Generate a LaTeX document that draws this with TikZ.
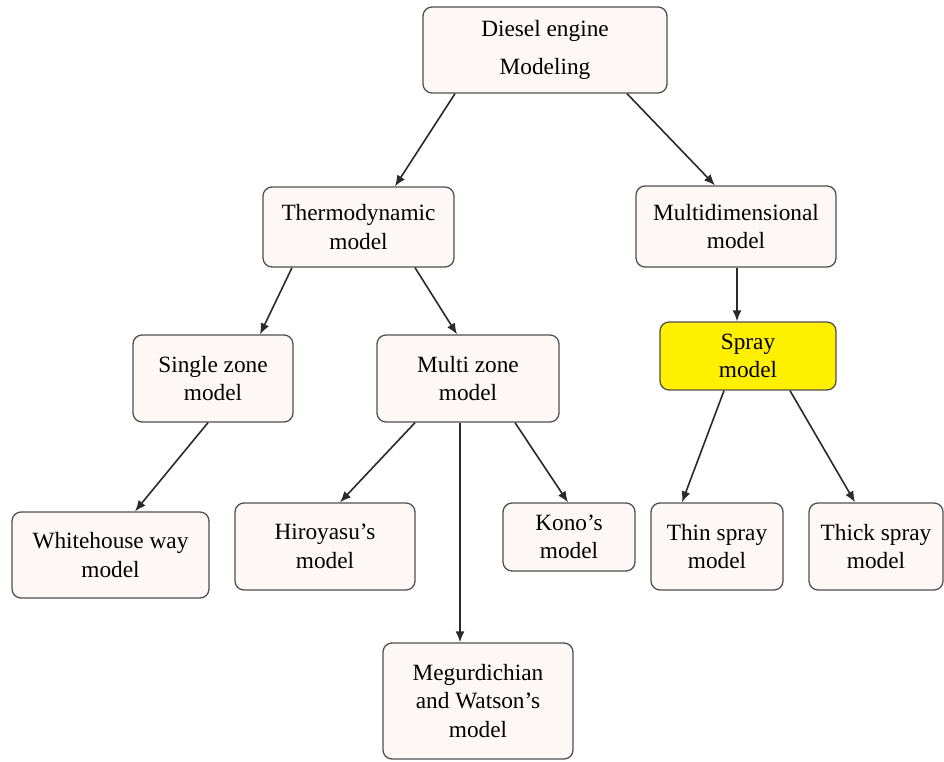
\documentclass[tikz,border=0pt]{standalone}
\usepackage{fontspec}
\setmainfont{Liberation Serif}
\usetikzlibrary{arrows.meta}
\definecolor{boxfill}{HTML}{FDF8F6}
\definecolor{boxline}{HTML}{505050}
\definecolor{sprayfill}{HTML}{FFF000}
\definecolor{arrowcol}{HTML}{2A2A2A}
\tikzset{
  mbox/.style={draw=boxline, line width=1.3pt, fill=boxfill, rounded corners=9pt,
    align=center, inner sep=0pt, font=\fontsize{23.3}{28.5}\selectfont},
  conn/.style={draw=arrowcol, line width=1.6pt, -{Latex[length=11pt,width=9pt]}}
}
\begin{document}
\begin{tikzpicture}[x=1pt,y=-1pt]
\useasboundingbox (0,0) rectangle (944,762);
\fill[white] (0,0) rectangle (944,762);

\node[mbox, minimum width=244pt, minimum height=86pt, font=\fontsize{23.3}{38}\selectfont] (diesel) at (545,50) {Diesel engine\\Modeling};
\node[mbox, minimum width=191pt, minimum height=80pt] (thermo) at (358.5,227) {Thermodynamic\\model};
\node[mbox, minimum width=200pt, minimum height=81pt] (multidim) at (736,226.5) {Multidimensional\\model};
\node[mbox, minimum width=160pt, minimum height=87pt] (single) at (213,378.5) {Single zone\\model};
\node[mbox, minimum width=182pt, minimum height=87pt] (multi) at (468,378.5) {Multi zone\\model};
\node[mbox, fill=sprayfill, minimum width=176pt, minimum height=68pt] (spray) at (748,356) {Spray\\model};
\node[mbox, minimum width=197pt, minimum height=86pt] (white) at (110.5,555) {Whitehouse way\\model};
\node[mbox, minimum width=180pt, minimum height=87pt] (hiro) at (325,546.5) {Hiroyasu’s\\model};
\node[mbox, minimum width=132pt, minimum height=68pt] (kono) at (569,537) {Kono’s\\model};
\node[mbox, minimum width=132pt, minimum height=87pt] (thin) at (717,546.5) {Thin spray\\model};
\node[mbox, minimum width=134pt, minimum height=87pt] (thick) at (876,546.5) {Thick spray\\model};
\node[mbox, minimum width=190pt, minimum height=116pt] (meg) at (478,701) {Megurdichian\\and Watson’s\\model};

\draw[conn] ([xshift=-90pt]diesel.south) -- ([xshift=36.5pt]thermo.north);
\draw[conn] ([xshift=82pt]diesel.south) -- ([xshift=-21pt]multidim.north);
\draw[conn] ([xshift=-66.5pt]thermo.south) -- ([xshift=47pt]single.north);
\draw[conn] ([xshift=56.5pt]thermo.south) -- ([xshift=-11pt]multi.north);
\draw[conn] ([xshift=1pt]multidim.south) -- ([xshift=-11pt]spray.north);
\draw[conn] ([xshift=-5pt]single.south) -- ([xshift=24.5pt]white.north);
\draw[conn] ([xshift=-53pt]multi.south) -- ([xshift=15pt]hiro.north);
\draw[conn] ([xshift=-8pt]multi.south) -- ([xshift=-18pt]meg.north);
\draw[conn] ([xshift=47pt]multi.south) -- ([xshift=-1pt]kono.north);
\draw[conn] ([xshift=-24pt]spray.south) -- ([xshift=-35pt]thin.north);
\draw[conn] ([xshift=42pt]spray.south) -- ([xshift=-21pt]thick.north);
\end{tikzpicture}
\end{document}
